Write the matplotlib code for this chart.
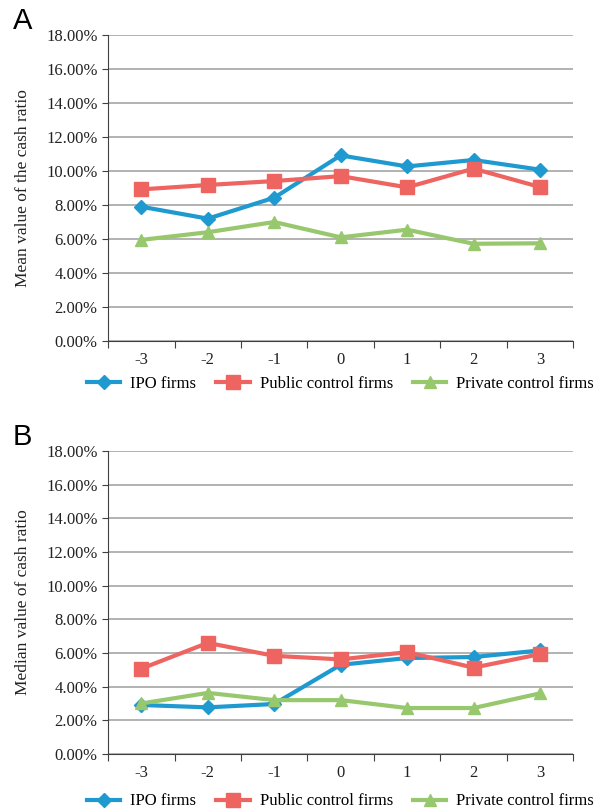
import numpy as np
import matplotlib
matplotlib.use('Agg')
import matplotlib.pyplot as plt
from matplotlib.ticker import FuncFormatter

years = [-3, -2, -1, 0, 1, 2, 3]
series_names = ['IPO firms', 'Public control firms', 'Private control firms']

# panel A: mean cash ratio (%)
mean_ipo = [7.90, 7.20, 8.43, 10.92, 10.27, 10.65, 10.08]
mean_public = [8.92, 9.18, 9.41, 9.70, 9.04, 10.14, 9.06]
mean_private = [5.95, 6.40, 7.00, 6.10, 6.55, 5.72, 5.75]

# panel B: median cash ratio (%)
median_ipo = [2.91, 2.77, 2.97, 5.30, 5.70, 5.76, 6.15]
median_public = [5.07, 6.60, 5.83, 5.62, 6.05, 5.13, 5.93]
median_private = [3.00, 3.63, 3.20, 3.20, 2.73, 2.73, 3.60]

colors = ['#1f9ad0', '#ee6460', '#98c86e']
markers = ['D', 's', '^']
msizes = [7, 10, 9]

serif = ['Liberation Serif', 'DejaVu Serif']

fig = plt.figure(figsize=(6.04, 8.11), dpi=100)
axA = fig.add_axes([0.179, 0.5795, 0.770, 0.3773])
axB = fig.add_axes([0.179, 0.0703, 0.770, 0.3736])

panels = [
    (axA, 'A', 'Mean value of the cash ratio', [mean_ipo, mean_public, mean_private], -0.115),
    (axB, 'B', 'Median value of cash ratio', [median_ipo, median_public, median_private], -0.13),
]

x = np.arange(len(years))
for ax, letter, ylabel, data, leg_y in panels:
    handles = []
    for vals, name, c, m, ms in zip(data, series_names, colors, markers, msizes):
        h, = ax.plot(x, vals, color=c, lw=3, marker=m, markersize=ms,
                     markeredgecolor=c, label=name, zorder=3)
        handles.append(h)
    ax.set_xlim(-0.5, len(years) - 0.5)
    ax.set_ylim(0, 18)
    ax.set_yticks(np.arange(0, 18.1, 2))
    ax.yaxis.set_major_formatter(FuncFormatter(lambda v, p: '%.2f%%' % v))
    ax.grid(axis='y', color='#a6a6a6', lw=1.2, zorder=0)
    ax.set_axisbelow(True)
    ax.set_xticks(np.arange(-0.5, len(years), 1))
    ax.set_xticklabels([])
    ax.set_xticks(x, minor=True)
    ax.set_xticklabels([str(y) for y in years], minor=True)
    ax.tick_params(axis='x', which='major', direction='out', length=5, color='#404040')
    ax.tick_params(axis='x', which='minor', length=0, pad=8)
    ax.tick_params(axis='y', direction='out', length=4, color='#404040')
    for lab in ax.get_yticklabels() + ax.get_xticklabels(minor=True):
        lab.set_fontfamily(serif)
        lab.set_fontsize(12)
        lab.set_color('#222222')
    for s in ['top', 'right']:
        ax.spines[s].set_visible(False)
    ax.spines['left'].set_color('#404040')
    ax.spines['bottom'].set_color('#404040')
    ax.set_ylabel(ylabel, family=serif, fontsize=12.5, color='#222222')
    ax.yaxis.set_label_coords(-0.165, 0.5)
    ax.text(-0.205, 1.0, letter, transform=ax.transAxes, fontsize=21,
            family=['Liberation Sans', 'DejaVu Sans'], va='bottom', ha='left')
    ax.legend(handles=handles, ncol=3, loc='upper center', bbox_to_anchor=(0.5, leg_y),
              frameon=False, prop={'family': serif, 'size': 12},
              handlelength=2.0, columnspacing=1.2, handletextpad=0.6,
              borderaxespad=0, borderpad=0)

fig.savefig('out.png', dpi=100)
